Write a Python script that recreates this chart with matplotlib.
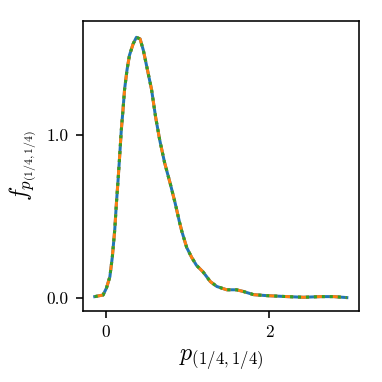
import matplotlib
matplotlib.use("Agg")
import matplotlib.pyplot as plt

# ── Style: LaTeX-like serif look ──────────────────────────────────────────────
plt.rcParams.update({
    "font.family":             "serif",
    "font.serif":              ["cmr10", "DejaVu Serif"],
    "mathtext.fontset":        "cm",
    "axes.formatter.use_mathtext": True,
    "font.size":               10,
    "xtick.labelsize":         8.7,
    "ytick.labelsize":         8.7,
    "axes.unicode_minus":      False,
})

# ── Data ──────────────────────────────────────────────────────────────────────
p_grid = [-0.135, -0.033, 0.008, 0.05, 0.08, 0.11, 0.13, 0.15, 0.17, 0.19,
          0.21, 0.23, 0.26, 0.29, 0.335, 0.375, 0.42, 0.46, 0.51, 0.56,
          0.61, 0.66, 0.72, 0.79, 0.85, 0.90, 0.93, 0.99, 1.05, 1.11,
          1.19, 1.28, 1.36, 1.48, 1.60, 1.68, 1.81, 1.97, 2.22, 2.42,
          2.63, 2.79, 2.95]
density_a = [0.008, 0.018, 0.06, 0.13, 0.25, 0.42, 0.58, 0.72, 0.87, 1.03,
             1.15, 1.28, 1.40, 1.49, 1.56, 1.60, 1.59, 1.52, 1.40, 1.28,
             1.11, 0.97, 0.83, 0.70, 0.58, 0.47, 0.41, 0.31, 0.25, 0.20,
             0.16, 0.10, 0.07, 0.05, 0.05, 0.04, 0.02, 0.014, 0.008, 0.004,
             0.008, 0.008, 0.002]
density_b = list(density_a)
density_c = list(density_a)

x_ticks = [0, 2]
y_ticks = [0.0, 1.0]
y_ticklabels = ["0.0", "1.0"]

# ── Plot (small figure at high dpi, as in the reference) ──────────────────────
DPI = 144
fig = plt.figure(figsize=(382 / DPI, 382 / DPI), dpi=DPI)
ax = fig.add_axes([0.217, 0.186, 0.723, 0.759])

ax.plot(p_grid, density_a, color="#1f77b4", linestyle="-", linewidth=1.5)
ax.plot(p_grid, density_b, color="#ff7f0e", linestyle="--", linewidth=1.5)
ax.plot(p_grid, density_c, color="#2ca02c", linestyle=":", linewidth=1.5)

ax.set_xlim(-0.28, 3.10)
ax.set_ylim(-0.08, 1.70)
ax.set_xticks(x_ticks)
ax.set_xticklabels([str(t) for t in x_ticks])
ax.set_yticks(y_ticks)
ax.set_yticklabels(y_ticklabels)

ax.set_xlabel(r"$p_{(1/4,1/4)}$", fontsize=12)
ax.set_ylabel(r"$f_{p_{(1/4,1/4)}}$", fontsize=12)

fig.savefig("out.png", dpi=DPI)
